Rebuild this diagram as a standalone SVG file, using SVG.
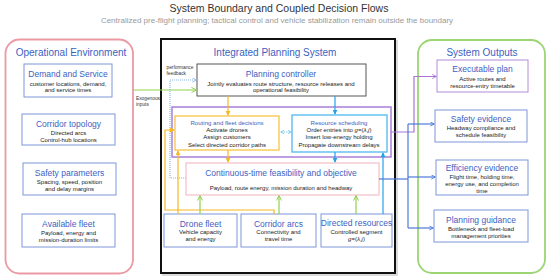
<svg xmlns="http://www.w3.org/2000/svg" width="550" height="279" viewBox="0 0 550 279">
<style>
text{font-family:"Liberation Sans",Arial,sans-serif}
.t{fill:#333;font-size:10.5px;text-anchor:middle}
.st{fill:#9a9a9a;font-size:8px;text-anchor:middle}
.h{fill:#3c5fc2;font-size:10px;text-anchor:middle}
.bt{fill:#3c5fc2;font-size:8.5px;text-anchor:middle}
.s{fill:#222;font-size:6px;text-anchor:middle}
.sm{fill:#3c5fc2;font-size:6.1px;text-anchor:middle}
.lbl{fill:#333;font-size:4.8px}
.box{fill:#fff;stroke:#7d96d8;stroke-width:1}
.c{fill:none;stroke-width:1.2}
.or{stroke:#f6b820}
.cy{stroke:#22a3ea}
.gr{stroke:#8fd150}
.pu{stroke:#a676d6}
.bl{stroke:#4e7ad8}
</style>
<defs>
<marker id="mo" viewBox="0 0 6 6" refX="5" refY="3" markerWidth="5" markerHeight="5" markerUnits="userSpaceOnUse" orient="auto"><path d="M0,0 L6,3 L0,6 Z" fill="#f6b820"/></marker>
<marker id="mc" viewBox="0 0 6 6" refX="5" refY="3" markerWidth="5" markerHeight="5" markerUnits="userSpaceOnUse" orient="auto"><path d="M0,0 L6,3 L0,6 Z" fill="#22a3ea"/></marker>
<marker id="mcs" viewBox="0 0 6 6" refX="5" refY="3" markerWidth="4" markerHeight="4" markerUnits="userSpaceOnUse" orient="auto-start-reverse"><path d="M0.5,0.5 L5.5,3 L0.5,5.5" fill="none" stroke="#5cc0ea" stroke-width="1"/></marker>
<marker id="mg" viewBox="0 0 6 6" refX="5" refY="3" markerWidth="6" markerHeight="6" markerUnits="userSpaceOnUse" orient="auto"><path d="M0.5,0.5 L5.5,3 L0.5,5.5" fill="none" stroke="#8fd150" stroke-width="1"/></marker>
<marker id="mp" viewBox="0 0 6 6" refX="5" refY="3" markerWidth="5" markerHeight="5" markerUnits="userSpaceOnUse" orient="auto"><path d="M0.5,0.5 L5.5,3 L0.5,5.5" fill="none" stroke="#a676d6" stroke-width="1"/></marker>
<marker id="mb" viewBox="0 0 6 6" refX="5" refY="3" markerWidth="5" markerHeight="5" markerUnits="userSpaceOnUse" orient="auto"><path d="M0.5,0.5 L5.5,3 L0.5,5.5" fill="none" stroke="#4e7ad8" stroke-width="1"/></marker>
<marker id="md" viewBox="0 0 6 6" refX="5" refY="3" markerWidth="5" markerHeight="5" markerUnits="userSpaceOnUse" orient="auto"><path d="M0.5,0.5 L5.5,3 L0.5,5.5" fill="none" stroke="#8fb8ea" stroke-width="1"/></marker>
</defs>
<rect width="550" height="279" fill="#fff"/>
<g id="title">
<text class="t" x="279" y="11.5">System Boundary and Coupled Decision Flows</text>
<text class="st" x="277" y="22.5">Centralized pre-flight planning; tactical control and vehicle stabilization remain outside the boundary</text>
</g>
<g id="operational-environment">
<rect x="5.5" y="39.5" width="127.5" height="234" rx="14" fill="none" stroke="#ec99a4" stroke-width="1.8"/>
<text class="h" x="71" y="55.5">Operational Environment</text>
</g>
<g id="demand-service"><rect class="box" x="24" y="64" width="88" height="33"/>
<text class="bt" x="68" y="77">Demand and Service</text>
<text class="s" x="68" y="85.5">customer locations, demand,</text>
<text class="s" x="68" y="92">and service times</text></g>
<g id="corridor-topology"><rect class="box" x="22" y="114" width="93" height="31"/>
<text class="bt" x="68.5" y="126.5">Corridor topology</text>
<text class="s" x="68.5" y="134.5">Directed arcs</text>
<text class="s" x="68.5" y="141.5">Control-hub locations</text></g>
<g id="safety-parameters"><rect class="box" x="23" y="163" width="93" height="32"/>
<text class="bt" x="69.5" y="176">Safety parameters</text>
<text class="s" x="69.5" y="184">Spacing, speed, position</text>
<text class="s" x="69.5" y="191">and delay margins</text></g>
<g id="available-fleet"><rect class="box" x="22" y="214" width="93" height="33"/>
<text class="bt" x="68.5" y="227">Available fleet</text>
<text class="s" x="68.5" y="235">Payload, energy and</text>
<text class="s" x="68.5" y="242">mission-duration limits</text></g>

<g id="integrated-planning-system">
<rect x="163" y="41" width="234" height="234" fill="none" stroke="#cfcfcf" stroke-width="1.5"/>
<rect x="161" y="39" width="234" height="234" fill="#fff" stroke="#111" stroke-width="2"/>
<text class="h" x="275" y="56">Integrated Planning System</text>
</g>
<g id="planning-controller"><rect x="197" y="64" width="169" height="32" fill="#fff" stroke="#555" stroke-width="1"/>
<text class="bt" x="281" y="76.5">Planning controller</text>
<text class="s" x="281" y="85.5">Jointly evaluates route structure, resource releases and</text>
<text class="s" x="281" y="92">operational feasibility</text></g>
<g id="decision-layer"><rect x="172" y="107" width="219" height="50" fill="#fff" stroke="#a97fd8" stroke-width="1.5"/></g>
<g id="routing-fleet"><rect x="175" y="116" width="104" height="34" fill="#fff" stroke="#f6c445" stroke-width="1.3"/>
<text class="sm" x="227" y="124.5">Routing and fleet decisions</text>
<text class="s" x="227" y="132">Activate drones</text>
<text class="s" x="227" y="139.3">Assign customers</text>
<text class="s" x="227" y="146.6">Select directed corridor paths</text></g>
<g id="resource-scheduling"><rect x="292" y="115" width="95" height="37" fill="#fff" stroke="#4fb9ee" stroke-width="1.3"/>
<text class="sm" x="339" y="124.5">Resource scheduling</text>
<text class="s" x="339" y="132">Order entries into <tspan font-style="italic">g</tspan>=(<tspan font-style="italic">λ</tspan>,<tspan font-style="italic">j</tspan>)</text>
<text class="s" x="339" y="139.3">Insert low-energy holding</text>
<text class="s" x="339" y="146.6">Propagate downstream delays</text></g>
<g id="continuous-time"><rect x="186" y="163" width="193" height="32" fill="#fff" stroke="#f5c4cb" stroke-width="1.3"/>
<text class="bt" x="281" y="176">Continuous-time feasibility and objective</text>
<text class="s" x="281" y="189.5" font-size="6.2">Payload, route energy, mission duration and headway</text></g>
<g id="drone-fleet"><rect class="box" x="164" y="214" width="73" height="33"/>
<text class="bt" x="200.5" y="226.5">Drone fleet</text>
<text class="s" x="200.5" y="234">Vehicle capacity</text>
<text class="s" x="200.5" y="241">and energy</text></g>
<g id="corridor-arcs"><rect class="box" x="241" y="214" width="75" height="33"/>
<text class="bt" x="278.5" y="226.5">Corridor arcs</text>
<text class="s" x="278.5" y="234">Connectivity and</text>
<text class="s" x="278.5" y="241">travel time</text></g>
<g id="directed-resources"><rect class="box" x="321" y="214" width="71" height="33"/>
<text class="bt" x="356.5" y="226" font-size="7.3">Directed resources</text>
<text class="s" x="356.5" y="234">Controlled segment</text>
<text class="s" x="356.5" y="241"><tspan font-style="italic">g</tspan>=(<tspan font-style="italic">λ</tspan>,<tspan font-style="italic">j</tspan>)</text></g>

<g id="system-outputs">
<rect x="418" y="40" width="127" height="233" rx="14" fill="none" stroke="#9cd574" stroke-width="1.8"/>
<text class="h" x="482" y="55.5">System Outputs</text>
</g>
<g id="executable-plan"><rect x="437" y="60" width="91" height="32" fill="#fff" stroke="#b48ad9" stroke-width="1"/>
<text class="bt" x="482.5" y="72">Executable plan</text>
<text class="s" x="482.5" y="80.5">Active routes and</text>
<text class="s" x="482.5" y="88">resource-entry timetable</text></g>
<g id="safety-evidence"><rect class="box" x="435" y="110" width="92" height="32"/>
<text class="bt" x="481" y="122">Safety evidence</text>
<text class="s" x="481" y="130">Headway compliance and</text>
<text class="s" x="481" y="136.5">schedule feasibility</text></g>
<g id="efficiency-evidence"><rect class="box" x="436" y="160" width="92" height="35"/>
<text class="bt" x="482" y="170.7">Efficiency evidence</text>
<text class="s" x="482" y="179">Flight time, holding time,</text>
<text class="s" x="482" y="186">energy use, and completion</text>
<text class="s" x="482" y="192.5">time</text></g>
<g id="planning-guidance"><rect class="box" x="434" y="210" width="94" height="32"/>
<text class="bt" x="481" y="222.5">Planning guidance</text>
<text class="s" x="481" y="231">Bottleneck and fleet-load</text>
<text class="s" x="481" y="238">management priorities</text></g>

<g id="connectors">
<line class="c gr" x1="133" y1="90" x2="196" y2="90" marker-end="url(#mg)"/>
<text class="lbl" x="136" y="100">Exogenous</text>
<text class="lbl" x="136" y="106">inputs</text>
<polyline class="c" points="186,178 170,178 170,80 196,80" stroke="#8fb8ea" stroke-width="0.8" stroke-dasharray="1,1" marker-end="url(#md)"/>
<text class="lbl" x="166.5" y="69">performance</text>
<text class="lbl" x="166.5" y="75">feedback</text>
<line class="c or" x1="228" y1="96" x2="228" y2="115" marker-end="url(#mo)"/>
<line class="c cy" x1="335" y1="96" x2="335" y2="114" marker-end="url(#mc)"/>
<line x1="281" y1="132" x2="291" y2="132" stroke="#5cc0ea" stroke-width="0.8" stroke-dasharray="1.5,1" marker-start="url(#mcs)" marker-end="url(#mcs)"/>
<line class="c or" x1="228" y1="150" x2="228" y2="162" marker-end="url(#mo)"/>
<line class="c cy" x1="335" y1="152" x2="335" y2="162" marker-end="url(#mc)"/>
<line class="c or" x1="178" y1="214" x2="178" y2="151" marker-end="url(#mo)"/>
<polyline class="c or" points="274,214 274,210 165,210 165,130 174,130" marker-end="url(#mo)"/>
<line class="c gr" x1="200" y1="214" x2="200" y2="196" marker-end="url(#mg)"/>
<line class="c gr" x1="279" y1="214" x2="279" y2="196" marker-end="url(#mg)"/>
<line class="c gr" x1="356" y1="214" x2="356" y2="196" marker-end="url(#mg)"/>
<line class="c cy" x1="383" y1="214" x2="383" y2="153" stroke-width="1.8" marker-end="url(#mc)"/>
<polyline class="c pu" points="391,132 414,132 414,76.5 436,76.5" marker-end="url(#mp)"/>
<polyline class="c bl" points="379,179 408,179"/>
<line class="c bl" x1="408" y1="124" x2="408" y2="228"/>
<line class="c bl" x1="408" y1="124" x2="434" y2="124" marker-end="url(#mb)"/>
<line class="c bl" x1="408" y1="177" x2="435" y2="177" marker-end="url(#mb)"/>
<line class="c bl" x1="408" y1="228" x2="433" y2="228" marker-end="url(#mb)"/>
</g>
</svg>
